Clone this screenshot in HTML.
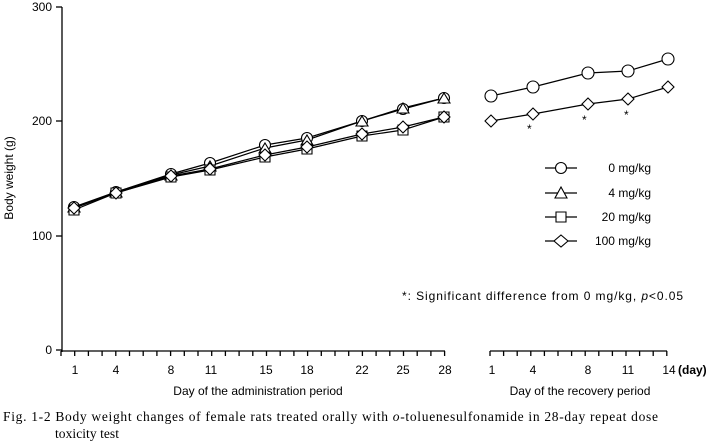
<!DOCTYPE html>
<html><head><meta charset="utf-8"><style>
body{margin:0;background:#fff}
svg{display:block}
text{font-family:"Liberation Sans",sans-serif;font-size:12px;fill:#000}
.s{font-family:"Liberation Serif",serif;font-size:13.5px}
</style></head><body>
<svg width="715" height="444" viewBox="0 0 715 444" xmlns="http://www.w3.org/2000/svg">
<g stroke="#000" stroke-width="1.3" fill="none">
<line x1="62" y1="7" x2="62" y2="352"/>
<line x1="56" y1="7" x2="62" y2="7"/><line x1="56" y1="121" x2="62" y2="121"/><line x1="56" y1="236" x2="62" y2="236"/><line x1="56" y1="350" x2="62" y2="350"/>
<line x1="61" y1="351" x2="445" y2="351"/>
<path d="M61 351v5M74.7 351v5M88.4 351v5M102.1 351v5M115.8 351v5M129.5 351v5M143.2 351v5M156.9 351v5M170.6 351v5M184.3 351v5M198 351v5M211.7 351v5M225.4 351v5M239.1 351v5M252.8 351v5M266.5 351v5M280.2 351v5M293.9 351v5M307.6 351v5M321.3 351v5M335 351v5M348.7 351v5M362.4 351v5M376.1 351v5M389.8 351v5M403.5 351v5M417.2 351v5M430.9 351v5M444.6 351v5"/>
<line x1="490" y1="351" x2="667" y2="351"/>
<path d="M490 351v5M503.6 351v5M517.2 351v5M530.8 351v5M544.4 351v5M558 351v5M571.6 351v5M585.2 351v5M598.8 351v5M612.4 351v5M626 351v5M639.6 351v5M653.2 351v5M666.8 351v5"/>
</g>
<g font-size="12">
<text x="52" y="11" text-anchor="end">300</text>
<text x="52" y="125" text-anchor="end">200</text>
<text x="52" y="240" text-anchor="end">100</text>
<text x="52" y="354" text-anchor="end">0</text>
<text transform="translate(13,178) rotate(-90)" text-anchor="middle">Body weight (g)</text>
<g text-anchor="middle">
<text x="75" y="374">1</text><text x="116" y="374">4</text><text x="171" y="374">8</text><text x="211" y="374">11</text><text x="266" y="374">15</text><text x="307" y="374">18</text><text x="362" y="374">22</text><text x="403" y="374">25</text><text x="445" y="374">28</text>
<text x="492" y="374">1</text><text x="533" y="374">4</text><text x="588" y="374">8</text><text x="628" y="374">11</text><text x="669" y="374">14</text>
<text x="258" y="395">Day of the administration period</text>
<text x="580" y="395">Day of the recovery period</text>
</g>
<text x="678" y="374" font-weight="bold">(day)</text>
<text x="402" y="300" textLength="281">*: Significant difference from 0 mg/kg, <tspan font-style="italic">p</tspan>&lt;0.05</text>
<g text-anchor="end">
<text x="651" y="172">0 mg/kg</text>
<text x="651" y="197">4 mg/kg</text>
<text x="651" y="221">20 mg/kg</text>
<text x="651" y="245">100 mg/kg</text>
</g>
<text x="527" y="133" font-size="14">*</text><text x="582" y="124" font-size="14">*</text><text x="624" y="119" font-size="14">*</text>
</g>
<text class="s" x="3" y="421" textLength="655">Fig. 1-2  Body weight changes of female rats treated orally with <tspan font-style="italic">o</tspan>-toluenesulfonamide in 28-day repeat dose</text>
<text class="s" x="55" y="438" textLength="64">toxicity test</text>
<g stroke="#000" stroke-width="1.2" fill="none">
<polyline points="74,207 116,192 171,174 210,163 265,145 307,138 362,121 403,109 444,98"/>
<polyline points="74,208 116,192 171,175 210,166 265,148 307,140 362,121 403,108 444,98"/>
<polyline points="74,210 116,193 171,177 210,170 265,157 307,149 362,136 403,130 444,117"/>
<polyline points="74,208 116,193 171,176 210,169 265,155 307,147 362,134 403,127 444,117"/>
<polyline points="491,96 533,87 588,73 628,71 668,59"/>
<polyline points="491,121 533,114 588,104 628,99 668,87"/>
<line x1="545" y1="168" x2="577" y2="168"/><line x1="545" y1="193" x2="577" y2="193"/><line x1="545" y1="217" x2="577" y2="217"/><line x1="545" y1="241" x2="577" y2="241"/>
</g>
<g stroke="#000" stroke-width="1.1" fill="#fff">
<circle cx="74" cy="207" r="5.5"/><circle cx="116" cy="192" r="5.5"/><circle cx="171" cy="174" r="5.5"/><circle cx="210" cy="163" r="5.5"/><circle cx="265" cy="145" r="5.5"/><circle cx="307" cy="138" r="5.5"/><circle cx="362" cy="121" r="5.5"/><circle cx="403" cy="109" r="5.5"/><circle cx="444" cy="98" r="5.5"/>
<path d="M74 202l6 10h-12zM116 187l6 10h-12zM171 170l6 10h-12zM210 161l6 10h-12zM265 143l6 10h-12zM307 135l6 10h-12zM362 116l6 10h-12zM403 103l6 10h-12zM444 93l6 10h-12z"/>
<path d="M69 205h10v10h-10zM111 188h10v10h-10zM166 172h10v10h-10zM205 165h10v10h-10zM260 152h10v10h-10zM302 144h10v10h-10zM357 131h10v10h-10zM398 125h10v10h-10zM439 112h10v10h-10z"/>
<path d="M74 202l6 6-6 6-6-6zM116 187l6 6-6 6-6-6zM171 170l6 6-6 6-6-6zM210 163l6 6-6 6-6-6zM265 149l6 6-6 6-6-6zM307 141l6 6-6 6-6-6zM362 128l6 6-6 6-6-6zM403 121l6 6-6 6-6-6zM444 111l6 6-6 6-6-6z"/>
<circle cx="491" cy="96" r="6"/><circle cx="533" cy="87" r="6"/><circle cx="588" cy="73" r="6"/><circle cx="628" cy="71" r="6"/><circle cx="668" cy="59" r="6"/>
<path d="M491 115l6 6-6 6-6-6zM533 108l6 6-6 6-6-6zM588 98l6 6-6 6-6-6zM628 93l6 6-6 6-6-6zM668 81l6 6-6 6-6-6z"/>
<circle cx="561" cy="168" r="5.5"/>
<path d="M561 187l6 11h-12z"/>
<path d="M556 212h10v10h-10z"/>
<path d="M561 235l7 6-7 6-7-6z"/>
</g>
</svg>
</body></html>
